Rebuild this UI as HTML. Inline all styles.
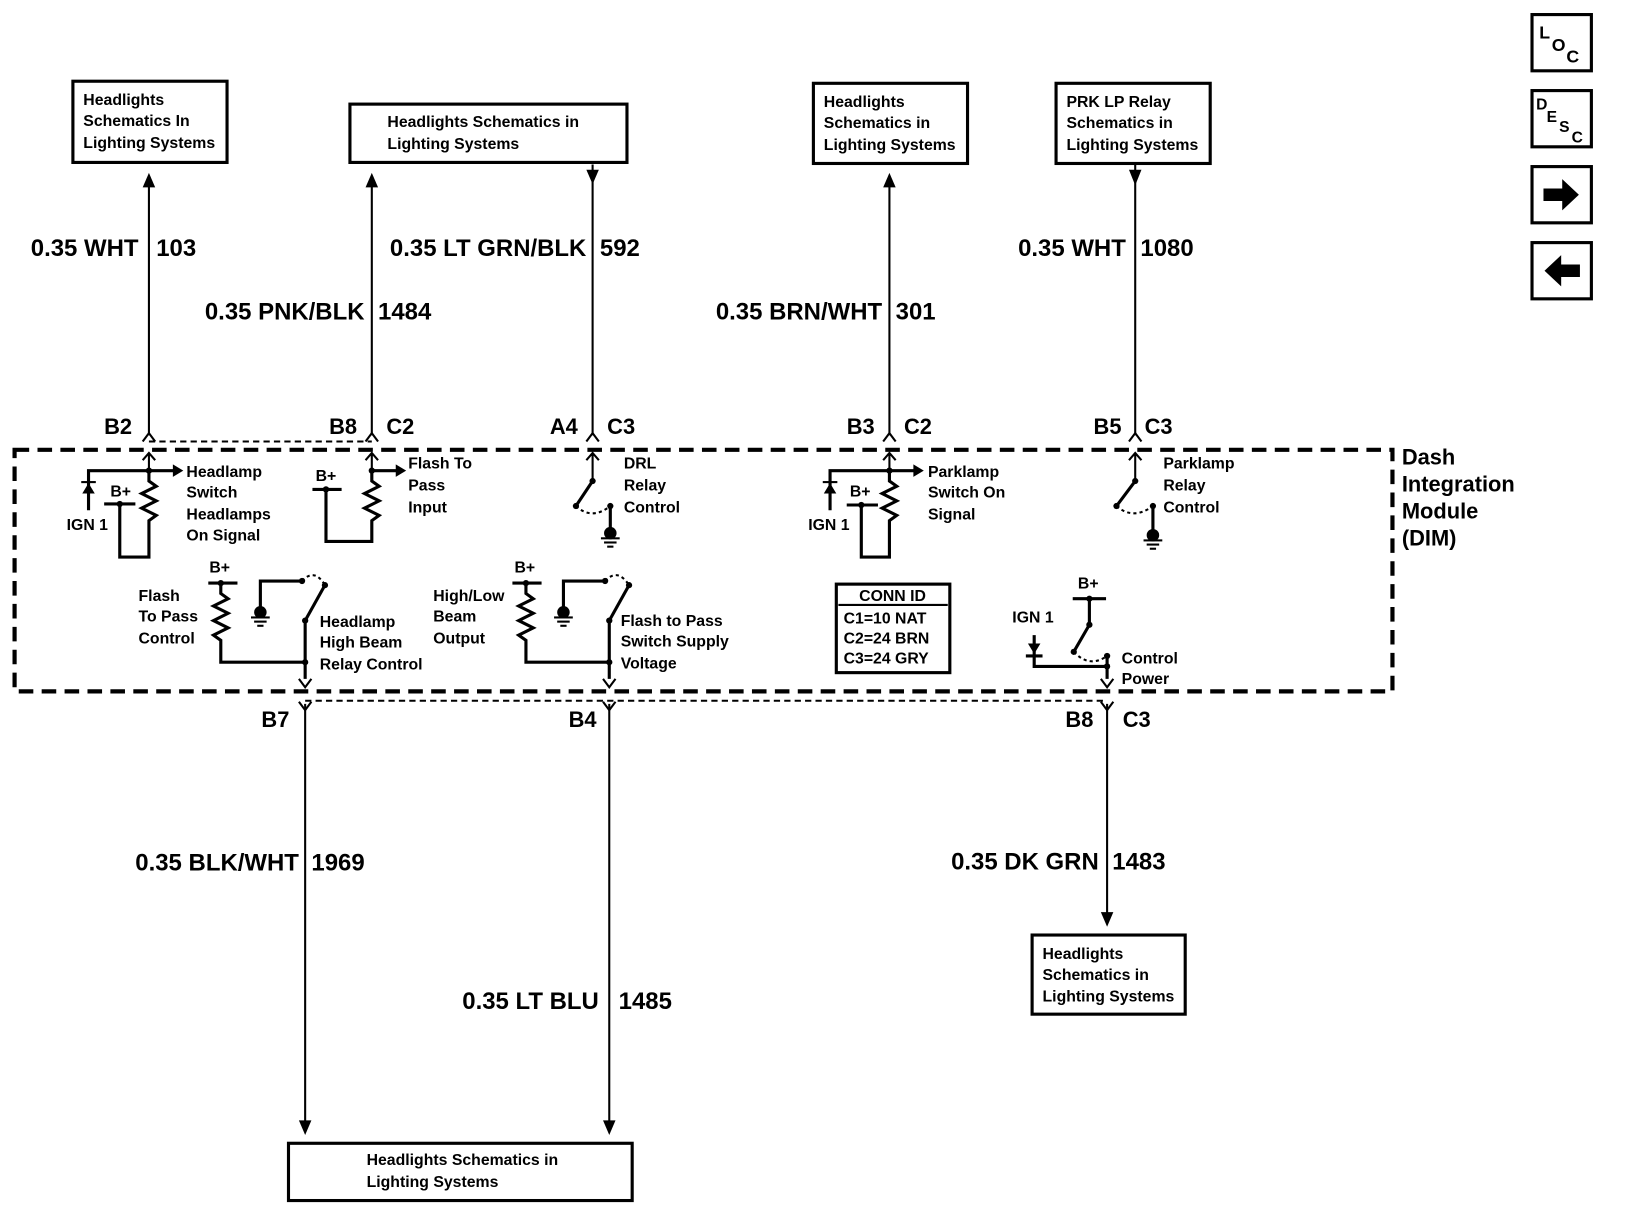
<!DOCTYPE html>
<html><head><meta charset="utf-8"><style>
html,body{margin:0;padding:0;background:#fff}
svg{display:block}
text{font-family:"Liberation Sans",sans-serif;font-weight:bold;fill:#000}
.s{font-size:15.2px;letter-spacing:0px}
.w{font-size:23px;letter-spacing:0px}
.c{font-size:21px;letter-spacing:0px}
</style></head><body>
<svg width="1632" height="1212" viewBox="0 0 1567 1164" preserveAspectRatio="none" xmlns="http://www.w3.org/2000/svg">
<g fill="none" stroke="#000">
<rect x="70" y="78" width="148" height="78" stroke-width="3"/>
<rect x="336" y="100" width="266" height="56" stroke-width="3"/>
<rect x="781" y="80" width="148" height="77" stroke-width="3"/>
<rect x="1014" y="80" width="148" height="77" stroke-width="3"/>
<rect x="991" y="898" width="147" height="76" stroke-width="3"/>
<rect x="277" y="1098" width="330" height="55" stroke-width="3"/>
<rect x="1471" y="14" width="57" height="54" stroke-width="3"/>
<rect x="1471" y="87" width="57" height="54" stroke-width="3"/>
<rect x="1471" y="160" width="57" height="54" stroke-width="3"/>
<rect x="1471" y="233" width="57" height="54" stroke-width="3"/>
<rect x="14" y="432" width="1323" height="232" stroke-width="4" stroke-dasharray="14 8"/>
<line x1="143" y1="424" x2="357" y2="424" stroke-width="2" stroke-dasharray="6 4"/>
<line x1="293" y1="673" x2="1063" y2="673" stroke-width="2" stroke-dasharray="6 4"/>
<g stroke-width="2">
<line x1="143" y1="176" x2="143" y2="418"/>
<line x1="357" y1="176" x2="357" y2="418"/>
<line x1="569" y1="158" x2="569" y2="418"/>
<line x1="854" y1="176" x2="854" y2="418"/>
<line x1="1090" y1="158" x2="1090" y2="418"/>
<line x1="293" y1="676" x2="293" y2="1078"/>
<line x1="585" y1="676" x2="585" y2="1078"/>
<line x1="1063" y1="676" x2="1063" y2="878"/>
<path d="M137,424 L143,416 L149,424 M351,424 L357,416 L363,424 M563,424 L569,416 L575,424 M848,424 L854,416 L860,424 M1084,424 L1090,416 L1096,424"/>
<path d="M287,674 L293,682 L299,674 M579,674 L585,682 L591,674 M1057,674 L1063,682 L1069,674"/>
<path d="M137,442 L143,435 L149,442 M143,435 L143,452 M351,442 L357,435 L363,442 M357,435 L357,452 M563,442 L569,435 L575,442 M569,435 L569,462 M848,442 L854,435 L860,442 M854,435 L854,452 M1084,442 L1090,435 L1096,442 M1090,435 L1090,462"/>
<path d="M287,652 L293,660 L299,652 M579,652 L585,660 L591,652 M1057,652 L1063,660 L1069,652"/>
</g>
<g stroke-width="3">
<path d="M143,452 L143,462 l7,5 l-14,7 l14,7 l-14,7 l14,7 l-7,5 L143,535 L115,535 L115,484"/>
<path d="M143,452 L85,452 L85,490"/><path d="M100,484 L130,484"/>
<path d="M143,452 L168,452"/>
<path d="M357,452 L357,462 l7,5 l-14,7 l14,7 l-14,7 l14,7 l-7,5 L357,520 L313,520 L313,470"/>
<path d="M300,470 L328,470"/><path d="M357,452 L382,452"/>
<path d="M569,462 L553,486"/><path d="M586,486 L586,510"/>
<path d="M854,452 L854,462 l7,5 l-14,7 l14,7 l-14,7 l14,7 l-7,5 L854,535 L827,535 L827,485"/>
<path d="M854,452 L797,452 L797,490"/><path d="M813,485 L843,485"/><path d="M854,452 L880,452"/>
<path d="M1090,462 L1072,486"/><path d="M1107,486 L1107,512"/>
<path d="M200,560 L228,560"/>
<path d="M212,560 L212,570 l7,5 l-14,7 l14,7 l-14,7 l14,7 l-14,7 l7,5 L212,636 L293,636"/>
<path d="M293,596 L293,652"/><path d="M293,596 L312,562"/>
<path d="M290,558 L250,558 L250,584"/>
<path d="M492,560 L520,560"/>
<path d="M505,560 L505,570 l7,5 l-14,7 l14,7 l-14,7 l14,7 l-14,7 l7,5 L505,636 L585,636"/>
<path d="M585,596 L585,652"/><path d="M585,596 L604,562"/>
<path d="M581,558 L541,558 L541,584"/>
<path d="M1030,575 L1062,575"/><path d="M1046,575 L1046,600 L1031,626"/>
<path d="M1063,630 L1063,652"/><path d="M993,610 L993,640 L1063,640"/><path d="M985,630 L1001,630"/>
<rect x="803" y="561" width="109" height="85"/>
</g>
<line x1="805" y1="581" x2="910" y2="581" stroke-width="2"/>
<g stroke-width="2" stroke-dasharray="3 3">
<path d="M553,486 Q568,500 586,486"/><path d="M1072,486 Q1088,500 1107,486"/>
<path d="M290,558 Q302,545 312,562"/><path d="M581,558 Q593,545 604,562"/>
<path d="M1031,626 Q1046,642 1063,630"/>
</g>
</g>
<g fill="#000">
<path d="M137,180 L143,166 L149,180 Z"/><path d="M351,180 L357,166 L363,180 Z"/>
<path d="M848,180 L854,166 L860,180 Z"/>
<path d="M563,163 L569,177 L575,163 Z"/><path d="M1084,163 L1090,178 L1096,163 Z"/>
<path d="M287,1076 L293,1090 L299,1076 Z"/><path d="M579,1076 L585,1090 L591,1076 Z"/>
<path d="M1057,876 L1063,890 L1069,876 Z"/>
<path d="M166,446 L176,452 L166,458 Z"/><path d="M380,446 L390,452 L380,458 Z"/><path d="M877,446 L887,452 L877,458 Z"/>
<path d="M79,474 L85,464 L91,474 Z"/><rect x="78" y="462" width="14" height="2"/>
<path d="M791,474 L797,464 L803,474 Z"/><rect x="790" y="462" width="14" height="2"/>
<path d="M987,618 L993,628 L999,618 Z"/>
<circle cx="143" cy="452" r="3"/><circle cx="115" cy="484" r="3"/>
<circle cx="357" cy="452" r="3"/><circle cx="313" cy="470" r="3"/>
<circle cx="569" cy="462" r="3"/><circle cx="553" cy="486" r="3"/><circle cx="586" cy="486" r="3"/>
<circle cx="854" cy="452" r="3"/><circle cx="827" cy="485" r="3"/>
<circle cx="1090" cy="462" r="3"/><circle cx="1072" cy="486" r="3"/><circle cx="1107" cy="486" r="3"/>
<circle cx="212" cy="560" r="3"/><circle cx="293" cy="596" r="3"/><circle cx="293" cy="636" r="3"/><circle cx="312" cy="562" r="3"/><circle cx="290" cy="558" r="3"/>
<circle cx="505" cy="560" r="3"/><circle cx="585" cy="596" r="3"/><circle cx="585" cy="636" r="3"/><circle cx="604" cy="562" r="3"/><circle cx="581" cy="558" r="3"/>
<circle cx="1046" cy="575" r="3"/><circle cx="1046" cy="600" r="3"/><circle cx="1031" cy="626" r="3"/><circle cx="1063" cy="630" r="3"/><circle cx="1063" cy="640" r="3"/>
<ellipse cx="586" cy="512" rx="6" ry="6"/><rect x="577" y="516" width="18" height="2"/><rect x="580" y="520" width="12" height="2"/><rect x="583" y="524" width="6" height="2"/>
<ellipse cx="1107" cy="514" rx="6" ry="6"/><rect x="1098" y="518" width="18" height="2"/><rect x="1101" y="522" width="12" height="2"/><rect x="1104" y="526" width="6" height="2"/>
<ellipse cx="250" cy="588" rx="6" ry="6"/><rect x="241" y="592" width="18" height="2"/><rect x="244" y="596" width="12" height="2"/><rect x="247" y="600" width="6" height="2"/>
<ellipse cx="541" cy="588" rx="6" ry="6"/><rect x="532" y="592" width="18" height="2"/><rect x="535" y="596" width="12" height="2"/><rect x="538" y="600" width="6" height="2"/>
<path d="M1482,181 L1500,181 L1500,172 L1516,187 L1500,202 L1500,193 L1482,193 Z"/>
<path d="M1517,254 L1499,254 L1499,245 L1483,260 L1499,275 L1499,266 L1517,266 Z"/>
</g>
<text x="1478" y="37" style="font-size:17px">L</text><text x="1490" y="49" style="font-size:17px">O</text><text x="1504" y="60" style="font-size:17px">C</text>
<text x="1475" y="105" style="font-size:15px">D</text><text x="1485" y="117" style="font-size:15px">E</text><text x="1497" y="127" style="font-size:15px">S</text><text x="1509" y="137" style="font-size:15px">C</text>
<g class="s">
<text x="80" y="101">Headlights</text><text x="80" y="121">Schematics In</text><text x="80" y="142">Lighting Systems</text>
<text x="372" y="122">Headlights Schematics in</text><text x="372" y="143">Lighting Systems</text>
<text x="791" y="103">Headlights</text><text x="791" y="123">Schematics in</text><text x="791" y="144">Lighting Systems</text>
<text x="1024" y="103">PRK LP Relay</text><text x="1024" y="123">Schematics in</text><text x="1024" y="144">Lighting Systems</text>
<text x="1001" y="921">Headlights</text><text x="1001" y="941">Schematics in</text><text x="1001" y="962">Lighting Systems</text>
<text x="352" y="1119">Headlights Schematics in</text><text x="352" y="1140">Lighting Systems</text>
<text x="179" y="458">Headlamp</text><text x="179" y="478">Switch</text><text x="179" y="499">Headlamps</text><text x="179" y="519">On Signal</text>
<text x="106" y="477">B+</text><text x="64" y="509">IGN 1</text>
<text x="303" y="462">B+</text>
<text x="392" y="450">Flash To</text><text x="392" y="471">Pass</text><text x="392" y="492">Input</text>
<text x="599" y="450">DRL</text><text x="599" y="471">Relay</text><text x="599" y="492">Control</text>
<text x="891" y="458">Parklamp</text><text x="891" y="478">Switch On</text><text x="891" y="499">Signal</text>
<text x="816" y="477">B+</text><text x="776" y="509">IGN 1</text>
<text x="1117" y="450">Parklamp</text><text x="1117" y="471">Relay</text><text x="1117" y="492">Control</text>
<text x="201" y="550">B+</text>
<text x="133" y="577">Flash</text><text x="133" y="597">To Pass</text><text x="133" y="618">Control</text>
<text x="307" y="602">Headlamp</text><text x="307" y="622">High Beam</text><text x="307" y="643">Relay Control</text>
<text x="494" y="550">B+</text>
<text x="416" y="577">High/Low</text><text x="416" y="597">Beam</text><text x="416" y="618">Output</text>
<text x="596" y="601">Flash to Pass</text><text x="596" y="621">Switch Supply</text><text x="596" y="642">Voltage</text>
<text x="1035" y="565">B+</text><text x="972" y="598">IGN 1</text>
<text x="1077" y="637">Control</text><text x="1077" y="657">Power</text>
<text x="857" y="577" text-anchor="middle">CONN ID</text>
<text x="810" y="599">C1=10 NAT</text><text x="810" y="618">C2=24 BRN</text><text x="810" y="637">C3=24 GRY</text>
</g>
<g class="w">
<text x="133" y="246" text-anchor="end">0.35 WHT</text><text x="150" y="246">103</text>
<text x="350" y="307" text-anchor="end">0.35 PNK/BLK</text><text x="363" y="307">1484</text>
<text x="563" y="246" text-anchor="end">0.35 LT GRN/BLK</text><text x="576" y="246">592</text>
<text x="847" y="307" text-anchor="end">0.35 BRN/WHT</text><text x="860" y="307">301</text>
<text x="1081" y="246" text-anchor="end">0.35 WHT</text><text x="1095" y="246">1080</text>
<text x="287" y="836" text-anchor="end">0.35 BLK/WHT</text><text x="299" y="836">1969</text>
<text x="575" y="969" text-anchor="end">0.35 LT BLU</text><text x="594" y="969">1485</text>
<text x="1055" y="835" text-anchor="end">0.35 DK GRN</text><text x="1068" y="835">1483</text>
</g>
<g class="c">
<text x="100" y="417">B2</text>
<text x="316" y="417">B8</text><text x="371" y="417">C2</text>
<text x="528" y="417">A4</text><text x="583" y="417">C3</text>
<text x="813" y="417">B3</text><text x="868" y="417">C2</text>
<text x="1050" y="417">B5</text><text x="1099" y="417">C3</text>
<text x="251" y="698">B7</text><text x="546" y="698">B4</text>
<text x="1023" y="698">B8</text><text x="1078" y="698">C3</text>
<text x="1346" y="446">Dash</text><text x="1346" y="472">Integration</text><text x="1346" y="498">Module</text><text x="1346" y="524">(DIM)</text>
</g>
</svg>
</body></html>
